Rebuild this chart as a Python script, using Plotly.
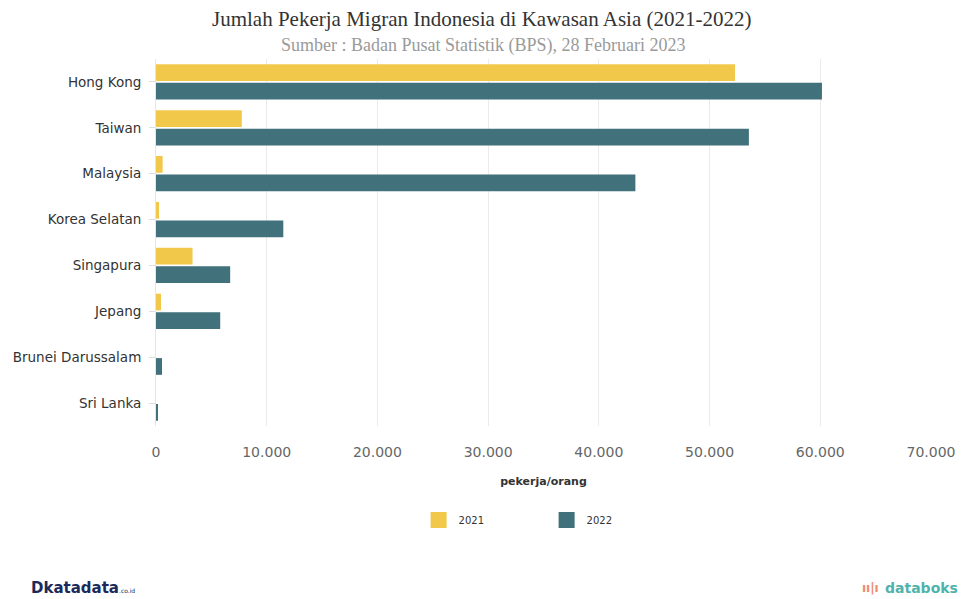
import plotly.graph_objects as go

categories = ["Hong Kong", "Taiwan", "Malaysia", "Korea Selatan", "Singapura",
              "Jepang", "Brunei Darussalam", "Sri Lanka"]
values_2021 = [52300, 7750, 600, 270, 3300, 450, 0, 0]
values_2022 = [60150, 53550, 43300, 11500, 6700, 5800, 540, 100]
tick_vals = [0, 10000, 20000, 30000, 40000, 50000, 60000, 70000]
tick_text = ["0", "10.000", "20.000", "30.000", "40.000", "50.000", "60.000", "70.000"]
series_names = ["2021", "2022"]

YELLOW = "#F2C84B"
TEAL = "#41717A"

W, H = 968, 599
ML, MR, MT, MB = 156, 27, 59, 173
plot_w = W - ML - MR
plot_h = H - MT - MB


def xp(px):
    return (px - ML) / plot_w


def yp(py):
    return (H - MB - py) / plot_h


fig = go.Figure()
fig.add_trace(go.Bar(y=categories, x=values_2021, name=series_names[0], orientation="h",
                     marker=dict(color=YELLOW, line=dict(width=0)), showlegend=False))
fig.add_trace(go.Bar(y=categories, x=values_2022, name=series_names[1], orientation="h",
                     marker=dict(color=TEAL, line=dict(width=0)), showlegend=False))
# legend entries with larger square swatches
for nm, col in zip(series_names, [YELLOW, TEAL]):
    fig.add_trace(go.Scatter(x=[None], y=[None], mode="markers", name=nm,
                             marker=dict(symbol="square", size=18, color=col)))

fig.update_layout(
    width=W, height=H,
    margin=dict(l=ML, r=MR, t=MT, b=MB),
    paper_bgcolor="white", plot_bgcolor="white",
    barmode="group", bargap=0.19, bargroupgap=0.1,
    font=dict(family="DejaVu Sans", color="#333333", size=12),
    showlegend=True,
    legend=dict(orientation="h", x=xp(422), xanchor="left", y=yp(520), yanchor="middle",
                font=dict(size=10, color="#333333"), entrywidth=83, itemwidth=30,
                traceorder="normal", itemsizing="trace"),
    xaxis=dict(range=[0, 70000], tickvals=tick_vals, ticktext=tick_text,
               showgrid=True, gridcolor="#EBEBEB", gridwidth=1, zeroline=False,
               showline=False, ticks="", ticklabelstandoff=16,
               tickfont=dict(size=14, color="#666666"),
               title=dict(text="<b>pekerja/orang</b>", font=dict(size=11, color="#333333"),
                          standoff=18)),
    yaxis=dict(autorange="reversed", showline=True, linecolor="#E6E6E6", linewidth=1,
               ticks="outside", ticklen=6, tickcolor="#DDDDDD", ticklabelstandoff=5,
               tickfont=dict(size=13.5, color="#333333"), showgrid=False),
    annotations=[
        dict(text="Jumlah Pekerja Migran Indonesia di Kawasan Asia (2021-2022)",
             x=xp(W / 2 + 2), y=yp(19), xref="paper", yref="paper", showarrow=False,
             xanchor="center", yanchor="middle",
             font=dict(family="Liberation Serif", size=21, color="#333333")),
        dict(text="Sumber : Badan Pusat Statistik (BPS), 28 Februari 2023",
             x=xp(W / 2 + 4), y=yp(45), xref="paper", yref="paper", showarrow=False,
             xanchor="center", yanchor="middle",
             font=dict(family="Liberation Serif", size=18, color="#9A9A9A")),
        dict(text="<b>D</b><b>katadata</b><span style='font-size:6px'>.co.id</span>",
             x=xp(27), y=yp(588), xref="paper", yref="paper", showarrow=False,
             xanchor="left", yanchor="middle",
             font=dict(family="DejaVu Sans", size=15, color="#1B2A5A")),
        dict(text="<b>databoks</b>",
             x=xp(892), y=yp(588), xref="paper", yref="paper", showarrow=False,
             xanchor="left", yanchor="middle",
             font=dict(family="DejaVu Sans", size=14, color="#4FB3AC")),
        dict(text="<b>ıı|ı</b>",
             x=xp(890), y=yp(588), xref="paper", yref="paper", showarrow=False,
             xanchor="right", yanchor="middle",
             font=dict(family="DejaVu Sans", size=12, color="#F08A6B")),
    ],
)

fig.write_html("out.html")
